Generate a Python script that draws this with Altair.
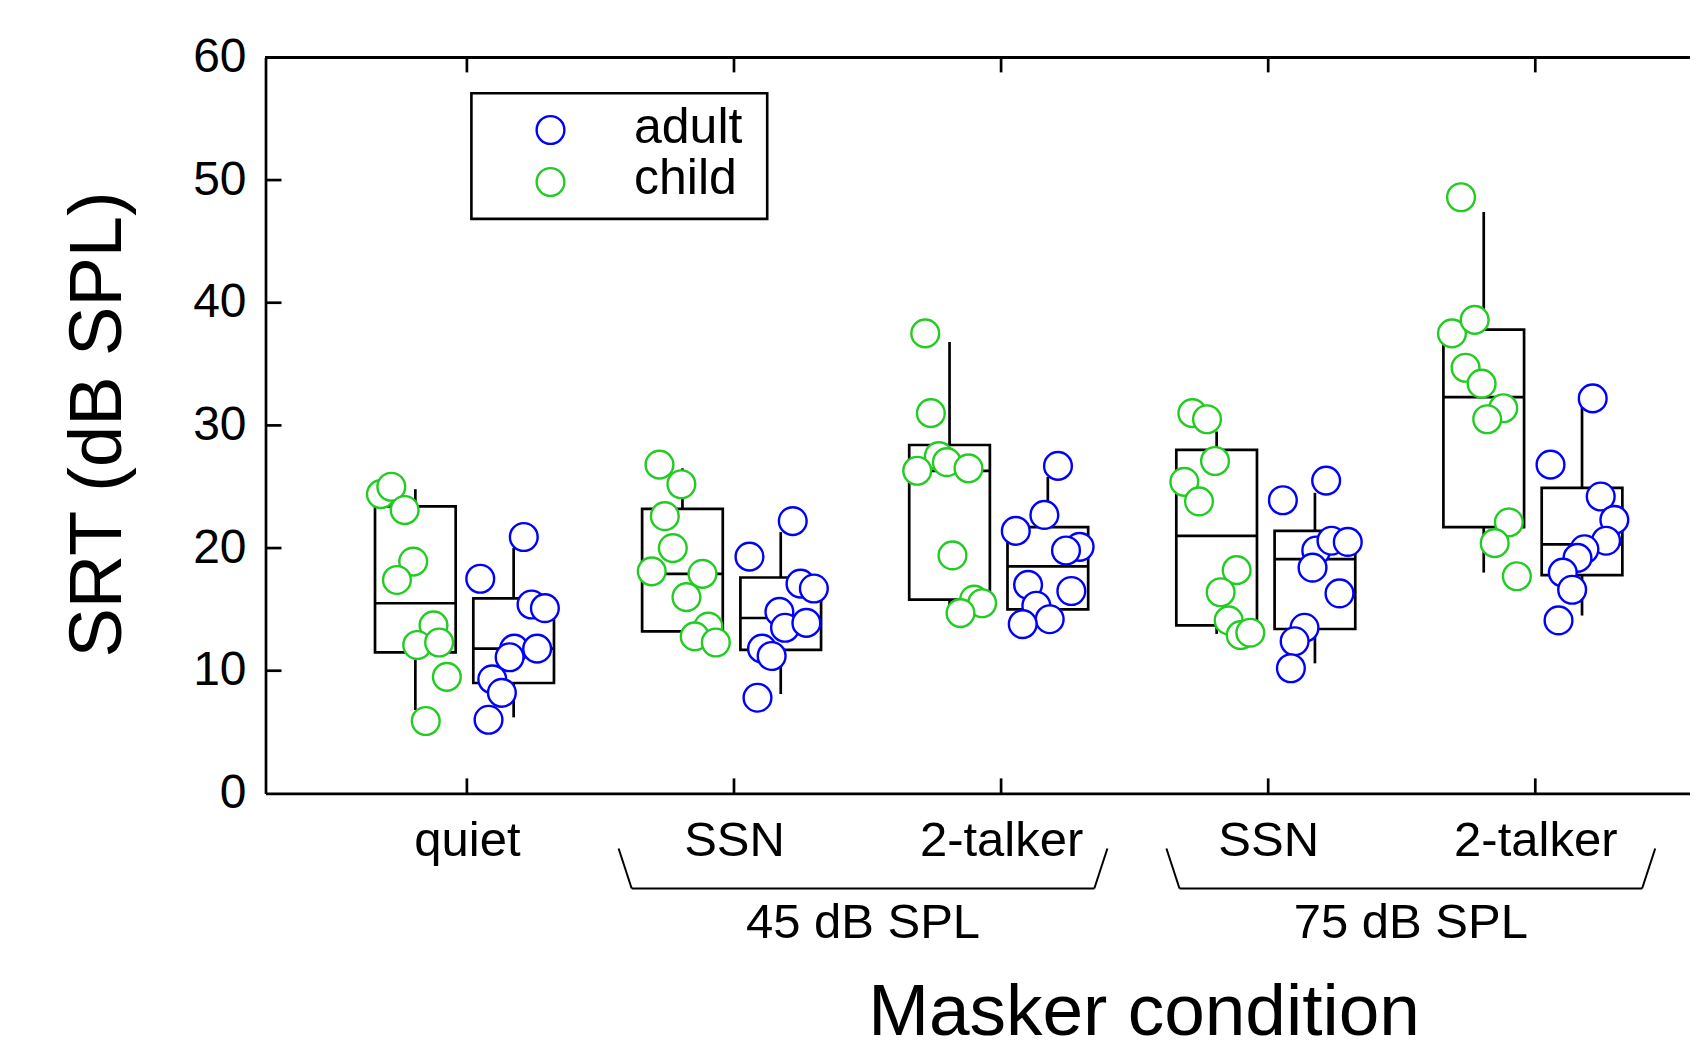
import altair as alt
import pandas as pd

# ---------------- data ----------------
conditions = ["quiet", "SSN", "2-talker", "SSN", "2-talker"]
groups = ["adult", "child"]
colors = ["#0000ff", "#22cc22"]

child_values = [
    [24.4, 25.0, 23.1, 18.9, 17.4, 13.7, 12.1, 12.3, 9.5, 5.9],
    [26.8, 25.2, 22.6, 20.0, 18.1, 17.9, 16.0, 13.6, 12.8, 12.3],
    [37.5, 31.0, 27.5, 27.0, 26.3, 26.5, 19.4, 15.8, 15.5, 14.7],
    [31.0, 30.5, 27.1, 25.4, 23.8, 18.2, 16.4, 14.1, 12.9, 13.1],
    [48.6, 37.5, 38.6, 34.7, 33.4, 31.4, 30.5, 22.1, 20.4, 17.7],
]
child_jitter = [
    [-0.322, -0.283, -0.233, -0.201, -0.262, -0.125, -0.186, -0.104, -0.075, -0.154],
    [-0.279, -0.197, -0.259, -0.229, -0.308, -0.118, -0.178, -0.096, -0.147, -0.068],
    [-0.284, -0.263, -0.233, -0.203, -0.314, -0.122, -0.182, -0.101, -0.071, -0.152],
    [-0.284, -0.229, -0.199, -0.314, -0.259, -0.118, -0.178, -0.148, -0.103, -0.067],
    [-0.278, -0.312, -0.227, -0.261, -0.201, -0.120, -0.180, -0.099, -0.152, -0.069],
]
adult_values = [
    [17.5, 20.9, 15.4, 15.1, 11.8, 11.1, 11.8, 9.3, 8.2, 6.0],
    [19.3, 22.2, 17.1, 16.7, 14.8, 13.5, 13.9, 11.8, 11.2, 7.8],
    [26.7, 22.7, 21.4, 20.1, 19.8, 17.0, 16.5, 15.3, 14.2, 13.8],
    [23.9, 25.5, 19.8, 20.6, 20.5, 18.4, 16.3, 13.5, 12.4, 10.2],
    [32.2, 26.8, 24.2, 22.3, 20.6, 19.9, 19.2, 18.0, 16.6, 14.1],
]
adult_jitter = [
    [0.050, 0.213, 0.242, 0.292, 0.177, 0.160, 0.263, 0.095, 0.131, 0.081],
    [0.058, 0.220, 0.249, 0.299, 0.170, 0.191, 0.271, 0.105, 0.141, 0.088],
    [0.213, 0.162, 0.055, 0.294, 0.243, 0.101, 0.263, 0.132, 0.182, 0.081],
    [0.055, 0.217, 0.180, 0.237, 0.298, 0.166, 0.267, 0.136, 0.099, 0.085],
    [0.215, 0.057, 0.245, 0.296, 0.265, 0.184, 0.158, 0.103, 0.138, 0.087],
]

child_q1 = [11.5, 13.2, 15.8, 13.7, 21.7]
child_med = [15.5, 17.9, 26.3, 21.0, 32.3]
child_q3 = [23.4, 23.2, 28.4, 28.0, 37.8]
child_lo = [6.8, 12.5, 14.8, 13.0, 18.0]
child_hi = [24.8, 26.5, 36.8, 29.5, 47.4]

adult_q1 = [9.0, 11.7, 15.0, 13.4, 17.8]
adult_med = [11.8, 14.3, 18.5, 19.1, 20.3]
adult_q3 = [15.9, 17.6, 21.7, 21.4, 24.9]
adult_lo = [6.2, 8.1, 14.3, 10.6, 14.5]
adult_hi = [20.0, 21.3, 25.8, 24.5, 31.5]

group_labels = ["45 dB SPL", "75 dB SPL"]
group_centers = [1.483, 3.534]

y_ticks = [0, 10, 20, 30, 40, 50, 60]

# ---------------- layout / style ----------------
FONT = "Liberation Sans"
W, H = 1424, 736
PX_PER_CAT = 267.1
XMIN = -0.754
XMAX = XMIN + W / PX_PER_CAT
OFFSETS = {"child": -0.193, "adult": 0.175}
BOX_HALF = 0.151
LW = 2.7
SYM = 770

# ---------------- tables ----------------
pts, boxes = [], []
for grp, vals, jit, q1, md, q3, lo, hi in [
    ("child", child_values, child_jitter, child_q1, child_med, child_q3, child_lo, child_hi),
    ("adult", adult_values, adult_jitter, adult_q1, adult_med, adult_q3, adult_lo, adult_hi),
]:
    for i in range(len(conditions)):
        c = i + OFFSETS[grp]
        boxes.append(dict(group=grp, xc=c, xa=c - BOX_HALF, xb=c + BOX_HALF,
                          q1=q1[i], med=md[i], q3=q3[i], lo=lo[i], hi=hi[i]))
        for v, j in zip(vals[i], jit[i]):
            pts.append(dict(group=grp, cond=conditions[i], x=i + j, value=v))
pts = pd.DataFrame(pts)
boxes = pd.DataFrame(boxes)

grp_df = pd.DataFrame(dict(label=group_labels, c=group_centers))
grp_df["l"] = grp_df["c"] - 0.866
grp_df["r"] = grp_df["c"] + 0.866
grp_df["lt"] = grp_df["l"] - 0.049
grp_df["rt"] = grp_df["r"] + 0.049

cat_ticks = pd.DataFrame(dict(x=list(range(len(conditions)))))
ytick_df = pd.DataFrame(dict(y=y_ticks[1:-1]))

xs = alt.Scale(domain=[XMIN, XMAX], nice=False, zero=False)
ys = alt.Scale(domain=[0, 60], nice=False, zero=False)

label_expr = "[" + ",".join("'%s'" % c for c in conditions) + "][datum.value]"

x_axis = alt.Axis(
    values=list(range(len(conditions))), labelExpr=label_expr,
    labelFont=FONT, labelFontSize=49, labelColor="black",
    labelBaseline="alphabetic", labelPadding=62, labelFlush=False, labelOverlap=False,
    ticks=False, grid=False, domain=True, domainColor="black", domainWidth=LW,
    title="Masker condition", titleFont=FONT, titleFontSize=73, titleFontWeight="normal",
    titleColor="black", titleX=878, titleY=241, titleAlign="center",
    titleBaseline="alphabetic",
)
y_axis = alt.Axis(
    values=y_ticks,
    labelFont=FONT, labelFontSize=48, labelColor="black", labelPadding=19.5,
    labelBaseline="middle",
    ticks=False, grid=False, domain=True, domainColor="black", domainWidth=LW,
    title="SRT (dB SPL)", titleFont=FONT, titleFontSize=74, titleFontWeight="normal",
    titleColor="black", titleX=-145.5, titleY=366.6, titleAngle=270,
    titleAlign="center", titleBaseline="alphabetic",
)


def X(field):
    return alt.X(field, scale=xs, axis=x_axis)


def Y(field):
    return alt.Y(field, scale=ys, axis=y_axis)


color_scale = alt.Scale(domain=groups, range=colors)

# boxes
box_layer = alt.Chart(boxes).mark_rect(fillOpacity=0, stroke="black", strokeWidth=LW).encode(
    x=X("xa:Q"), x2="xb:Q", y=Y("q1:Q"), y2="q3:Q",
)
med_layer = alt.Chart(boxes).mark_rule(color="black", strokeWidth=LW).encode(
    x=X("xa:Q"), x2="xb:Q", y=Y("med:Q"),
)
wh_hi = alt.Chart(boxes).mark_rule(color="black", strokeWidth=LW).encode(
    x=X("xc:Q"), y=Y("q3:Q"), y2="hi:Q",
)
wh_lo = alt.Chart(boxes).mark_rule(color="black", strokeWidth=LW).encode(
    x=X("xc:Q"), y=Y("lo:Q"), y2="q1:Q",
)

points = alt.Chart(pts).mark_point(
    shape="circle", filled=False, fill="white", fillOpacity=1, opacity=1,
    size=SYM, strokeWidth=2.4,
).encode(
    x=X("x:Q"), y=Y("value:Q"),
    stroke=alt.Stroke("group:N", scale=color_scale, legend=None),
)

# inward axis ticks and top border
bottom_ticks = alt.Chart(cat_ticks).mark_rule(color="black", strokeWidth=LW).encode(
    x=X("x:Q"), y=alt.value(H), y2=alt.value(H - 15))
top_ticks = alt.Chart(cat_ticks).mark_rule(color="black", strokeWidth=LW).encode(
    x=X("x:Q"), y=alt.value(0), y2=alt.value(15))
left_ticks = alt.Chart(ytick_df).mark_rule(color="black", strokeWidth=LW).encode(
    y=Y("y:Q"), x=alt.value(0), x2=alt.value(16))
top_border = alt.Chart(cat_ticks).mark_rule(color="black", strokeWidth=LW).encode(
    x=alt.value(0), x2=alt.value(W), y=alt.value(0))

# group brackets
BR_TOP, BR_BOT = 791.1, 831.1
br_h = alt.Chart(grp_df).mark_rule(color="black", strokeWidth=2).encode(
    x=X("l:Q"), x2="r:Q", y=alt.value(BR_BOT))
br_l = alt.Chart(grp_df).mark_rule(color="black", strokeWidth=2).encode(
    x=X("lt:Q"), x2="l:Q", y=alt.value(BR_TOP), y2=alt.value(BR_BOT))
br_r = alt.Chart(grp_df).mark_rule(color="black", strokeWidth=2).encode(
    x=X("rt:Q"), x2="r:Q", y=alt.value(BR_TOP), y2=alt.value(BR_BOT))
br_txt = alt.Chart(grp_df).mark_text(
    font=FONT, fontSize=49, color="black", align="center", baseline="alphabetic"
).encode(x=X("c:Q"), y=alt.value(880.6), text="label:N")

# legend (drawn by hand, box at upper left)
leg_df = pd.DataFrame(dict(group=groups))
legend_layers = [
    alt.Chart(leg_df.head(1)).mark_rect(fillOpacity=0, stroke="black", strokeWidth=2.6).encode(
        x=alt.value(205.9), x2=alt.value(501.7), y=alt.value(35.8), y2=alt.value(161.5))
]
for i, g in enumerate(groups):
    sub = leg_df.iloc[[i]]
    legend_layers.append(
        alt.Chart(sub).mark_point(shape="circle", filled=False, fill="white", fillOpacity=1,
                                  size=SYM, strokeWidth=2.4).encode(
            x=alt.value(285), y=alt.value(72.6 + 52 * i),
            stroke=alt.Stroke("group:N", scale=color_scale, legend=None)))
    legend_layers.append(
        alt.Chart(sub).mark_text(font=FONT, fontSize=50, color="black", align="left",
                                 baseline="middle").encode(
            x=alt.value(368.5), y=alt.value(70.6 + 51 * i), text="group:N"))

chart = alt.layer(
    box_layer, med_layer, wh_hi, wh_lo,
    bottom_ticks, top_ticks, left_ticks, top_border,
    points,
    br_h, br_l, br_r, br_txt,
    *legend_layers,
).properties(
    width=W, height=H,
    autosize=alt.AutoSizeParams(type="none"),
    padding={"left": 257.5, "top": 49.4, "right": 0, "bottom": 250},
    background="white",
).configure_view(stroke=None)

chart.save("out.html", embed_options={"renderer": "svg", "actions": False})
